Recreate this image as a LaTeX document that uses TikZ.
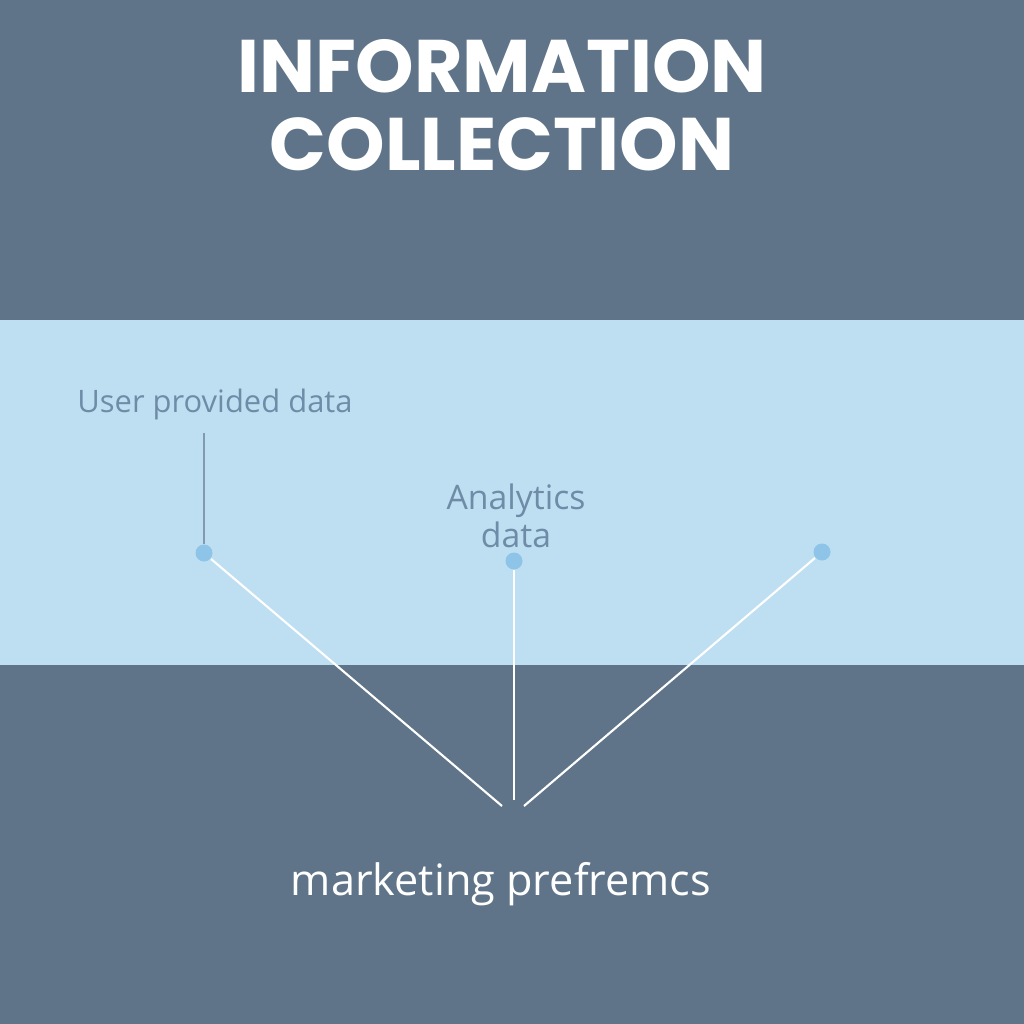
\documentclass[tikz,border=0pt]{standalone}
\usepackage{fontspec}
\setmainfont{Open Sans}
\newfontfamily\headfont{Poppins}
\definecolor{slate}{HTML}{5F7489}
\definecolor{paleblue}{HTML}{BEDFF1}
\definecolor{dotblue}{HTML}{8EC4E8}
\definecolor{labelblue}{HTML}{6E8CA8}
\definecolor{stemgrey}{HTML}{8299B0}
\tikzset{
  dot/.style={circle,fill=dotblue,inner sep=0pt,minimum size=0.17cm},
  lbl/.style={text=labelblue,align=center},
  spoke/.style={white,line width=0.6pt}
}

\begin{document}
\begin{tikzpicture}
\useasboundingbox (0,0) rectangle (10.24,-10.24);
\fill[slate] (0,0) rectangle (10.24,-10.24);
\fill[paleblue] (0,-3.2) rectangle (10.24,-6.65);
% title
\node[white,align=center,font=\headfont\bfseries\fontsize{21.2}{22.2}\selectfont] (title) at(5.02,-1.05){INFORMATION\\COLLECTION};
% labels
\node[lbl,font=\fontsize{8.8}{11}\selectfont] (user) at(2.15,-4.04){User provided data};
\node[lbl,font=\fontsize{9.6}{11}\selectfont] (analytics) at(5.16,-5.16){Analytics\\data};
% dots
\node[dot] (d1) at(2.04,-5.53){};
\node[dot] (d2) at(5.14,-5.61){};
\node[dot] (d3) at(8.22,-5.52){};
\coordinate (c1) at(5.02,-8.06);
\coordinate (c2) at(5.14,-8.00);
\coordinate (c3) at(5.24,-8.06);
\coordinate (stem) at(2.04,-4.33);
\draw[stemgrey,line width=0.5pt] (stem) -- (d1.north);
\draw[spoke] (d1) -- (c1);
\draw[spoke] (d2) -- (c2);
\draw[spoke] (d3) -- (c3);
\node[white,font=\fontsize{12.3}{15}\selectfont] (pref) at(5.01,-8.84){marketing prefremcs};
\end{tikzpicture}
\end{document}
